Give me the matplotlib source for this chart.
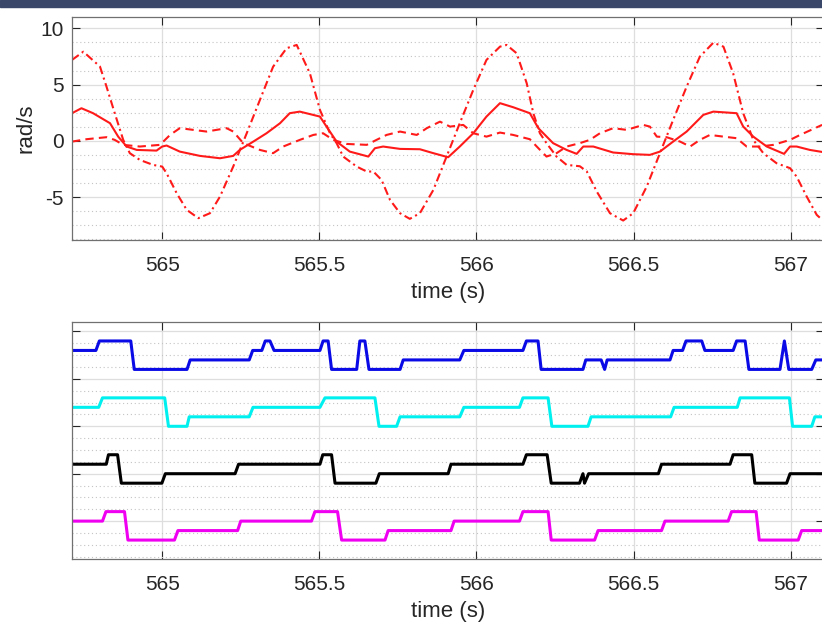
import matplotlib.pyplot as plt
from matplotlib.ticker import AutoMinorLocator, FixedLocator
from matplotlib.patches import Rectangle

plt.rcParams['font.family'] = ['Liberation Sans', 'DejaVu Sans']
plt.rcParams['axes.unicode_minus'] = False

# --- top panel: angular rates (rad/s) ---
t_solid = [564.713, 564.743, 564.780, 564.834, 564.860, 564.887, 564.919, 564.982, 565.000, 565.014,
           565.056, 565.120, 565.184, 565.226, 565.247, 565.290, 565.332, 565.375, 565.406, 565.438,
           565.502, 565.523, 565.555, 565.597, 565.656, 565.677, 565.703, 565.757, 565.820, 565.863,
           565.910, 565.947, 565.990, 566.032, 566.075, 566.117, 566.170, 566.197, 566.244, 566.287,
           566.319, 566.340, 566.372, 566.435, 566.499, 566.552, 566.584, 566.626, 566.669, 566.722,
           566.754, 566.828, 566.849, 566.881, 566.924, 566.979, 566.998, 567.019, 567.061, 567.100]
w_solid = [2.46, 2.9, 2.46, 1.57, 0.38, -0.5, -0.8, -0.86, -0.5, -0.41,
           -0.95, -1.33, -1.54, -1.33, -0.8, -0.06, 0.68, 1.57, 2.46, 2.6,
           2.16, 1.27, -0.06, -0.95, -1.39, -0.65, -0.5, -0.71, -0.74, -1.09,
           -1.45, -0.5, 0.68, 2.16, 3.35, 2.99, 2.46, 1.13, -0.2, -0.8,
           -1.15, -0.5, -0.5, -1.03, -1.18, -1.24, -0.95, -0.06, 0.83, 2.31,
           2.6, 2.46, 1.27, 0.38, -0.5, -1.15, -0.5, -0.5, -0.8, -0.98]

t_dash = [564.713, 564.759, 564.823, 564.849, 564.876, 564.929, 564.993, 565.025, 565.056, 565.099,
          565.141, 565.205, 565.226, 565.258, 565.311, 565.353, 565.385, 565.438, 565.481, 565.512,
          565.544, 565.587, 565.651, 565.682, 565.714, 565.757, 565.810, 565.842, 565.884, 565.916,
          565.958, 565.990, 566.032, 566.075, 566.117, 566.170, 566.192, 566.223, 566.255, 566.287,
          566.329, 566.361, 566.393, 566.435, 566.478, 566.531, 566.552, 566.574, 566.605, 566.648,
          566.680, 566.711, 566.743, 566.786, 566.828, 566.860, 566.902, 566.945, 566.998, 567.030,
          567.100]
w_dash = [-0.06, 0.15, 0.33, 0.09, -0.35, -0.5, -0.35, 0.53, 1.13, 0.98,
          0.83, 1.13, 0.83, -0.2, -0.8, -1.09, -0.5, 0.09, 0.53, 0.68,
          0.09, -0.27, -0.35, 0.09, 0.53, 0.83, 0.53, 1.13, 1.71, 1.27,
          1.42, 0.68, 0.38, 0.74, 0.53, 0.15, -0.5, -1.39, -1.09, -0.5,
          -0.2, 0.09, 0.68, 1.13, 0.98, 1.42, 1.27, 0.38, 0.33, -0.06,
          -0.5, 0.09, 0.53, 0.38, 0.24, -0.5, -0.5, -0.35, 0.09, 0.53,
          1.42]

t_dashdot = [564.713, 564.749, 564.802, 564.823, 564.849, 564.876, 564.897, 564.929, 564.971, 565.000,
             565.014, 565.046, 565.078, 565.115, 565.152, 565.184, 565.226, 565.269, 565.311, 565.353,
             565.396, 565.428, 565.470, 565.502, 565.534, 565.555, 565.576, 565.619, 565.651, 565.672,
             565.698, 565.725, 565.757, 565.788, 565.820, 565.863, 565.905, 565.947, 565.990, 566.032,
             566.075, 566.096, 566.128, 566.160, 566.181, 566.202, 566.223, 566.255, 566.287, 566.329,
             566.351, 566.383, 566.425, 566.467, 566.499, 566.542, 566.584, 566.626, 566.669, 566.711,
             566.754, 566.786, 566.817, 566.849, 566.881, 566.913, 566.955, 566.998, 567.019, 567.051,
             567.083, 567.100]
w_dashdot = [7.19, 7.92, 6.6, 4.8, 2.46, 0.09, -1.09, -1.69, -2.13, -2.28,
             -2.87, -4.64, -6.12, -6.86, -6.42, -4.94, -2.28, 0.68, 3.64, 6.59,
             8.23, 8.52, 6.0, 2.75, 0.68, -0.2, -1.39, -2.28, -2.72, -2.72,
             -3.46, -5.24, -6.42, -6.92, -6.42, -4.35, -1.39, 1.57, 4.53, 7.19,
             8.37, 8.52, 7.78, 5.12, 2.46, 0.68, -0.2, -1.39, -2.13, -2.25,
             -2.7, -4.5, -6.42, -7.07, -6.42, -4.05, -1.09, 1.86, 4.82, 7.48,
             8.72, 8.37, 6.0, 2.46, 0.09, -1.09, -1.98, -2.42, -3.17, -4.94,
             -6.57, -7.0]

# --- bottom panel: 4-level state signals (0..3) ---
t_blue = [564.713, 564.789, 564.800, 564.900, 564.911, 565.079, 565.089, 565.277, 565.288, 565.317,
          565.328, 565.343, 565.356, 565.502, 565.512, 565.528, 565.539, 565.619, 565.629, 565.645,
          565.658, 565.757, 565.767, 565.947, 565.960, 566.148, 566.159, 566.196, 566.206, 566.339,
          566.348, 566.397, 566.408, 566.416, 566.616, 566.626, 566.656, 566.667, 566.717, 566.727,
          566.817, 566.828, 566.855, 566.867, 566.966, 566.980, 566.994, 567.067, 567.080, 567.110]
s_blue = [2, 2, 3, 3, 0, 0, 1, 1, 2, 2,
          3, 3, 2, 2, 3, 3, 0, 0, 3, 3,
          0, 0, 1, 1, 2, 2, 3, 3, 0, 0,
          1, 1, 0, 1, 1, 2, 2, 3, 3, 2,
          2, 3, 3, 0, 0, 3, 0, 0, 1, 1]

t_cyan = [564.713, 564.798, 564.810, 565.008, 565.020, 565.079, 565.086, 565.277, 565.289, 565.502,
          565.518, 565.677, 565.690, 565.746, 565.757, 565.947, 565.960, 566.137, 566.148, 566.228,
          566.240, 566.355, 566.365, 566.618, 566.629, 566.830, 566.839, 566.996, 567.006, 567.067,
          567.077, 567.110]
s_cyan = [2, 2, 3, 3, 0, 0, 1, 1, 2, 2,
          3, 3, 0, 0, 1, 1, 2, 2, 3, 3,
          0, 0, 1, 1, 2, 2, 3, 3, 0, 0,
          1, 1]

t_black = [564.713, 564.822, 564.829, 564.858, 564.870, 564.999, 565.010, 565.232, 565.243, 565.502,
           565.511, 565.539, 565.550, 565.680, 565.691, 565.910, 565.919, 566.148, 566.159, 566.225,
           566.238, 566.328, 566.339, 566.344, 566.357, 566.579, 566.589, 566.807, 566.817, 566.876,
           566.886, 566.987, 566.998, 567.110]
s_black = [2, 2, 3, 3, 0, 0, 1, 1, 2, 2,
           3, 3, 0, 0, 1, 1, 2, 2, 3, 3,
           0, 0, 1, 0, 1, 1, 2, 2, 3, 3,
           0, 0, 1, 1]

t_magenta = [564.713, 564.810, 564.821, 564.880, 564.891, 565.039, 565.050, 565.240, 565.250, 565.475,
             565.486, 565.558, 565.571, 565.709, 565.719, 565.919, 565.929, 566.137, 566.148, 566.228,
             566.238, 566.376, 566.387, 566.589, 566.600, 566.801, 566.812, 566.890, 566.900, 567.024,
             567.035, 567.110]
s_magenta = [2, 2, 3, 3, 0, 0, 1, 1, 2, 2,
             3, 3, 0, 0, 1, 1, 2, 2, 3, 3,
             0, 0, 1, 1, 2, 2, 3, 3, 0, 0,
             1, 1]

offsets = [16, 10, 4, -2]

xticks = [565, 565.5, 566, 566.5, 567]
xticklabels = ['565', '565.5', '566', '566.5', '567']
xlim = (564.713, 567.106)

tick_col = '#262626'


def style_axes(ax):
    ax.set_xlim(*xlim)
    ax.set_xticks(xticks)
    ax.set_xticklabels(xticklabels)
    ax.yaxis.set_minor_locator(AutoMinorLocator(4))
    ax.xaxis.set_minor_locator(FixedLocator([]))
    ax.tick_params(which='major', direction='in', length=5.5, width=0.8, top=True, right=True,
                   labelsize=15, colors=tick_col, pad=11.5)
    ax.tick_params(which='minor', length=0, left=False, right=False)
    ax.grid(True, which='major', color='#dedede', lw=0.9, ls='-')
    ax.grid(True, which='minor', axis='y', color='#c4c4c4', lw=0.8, ls=(0, (1, 2.5)))
    ax.set_axisbelow(True)
    for sp in ax.spines.values():
        sp.set_color('#707070')
        sp.set_linewidth(0.9)
    ax.set_xlabel('time (s)', fontsize=16, color=tick_col, labelpad=5)


fig = plt.figure(figsize=(8.22, 6.37), dpi=100)
fig.patches.append(Rectangle((0, 0.989), 1, 0.011, transform=fig.transFigure,
                             color='#3b4769', zorder=0))

ax1 = fig.add_axes([0.0876, 0.6232, 0.9148, 0.3501])
ax1.plot(t_solid, w_solid, color='#ff1a1a', lw=1.5, ls='-')
ax1.plot(t_dash, w_dash, color='#ff1a1a', lw=1.5, ls=(0, (4, 2.5)))
ax1.plot(t_dashdot, w_dashdot, color='#ff1a1a', lw=1.5, ls=(0, (4, 1.8, 1, 1.8)))
ax1.set_ylim(-8.8, 11)
ax1.set_yticks([-5, 0, 5, 10])
style_axes(ax1)
ax1.tick_params(axis='y', pad=6)
ax1.set_ylabel('rad/s', fontsize=16, color=tick_col, labelpad=3)

ax2 = fig.add_axes([0.0876, 0.1224, 0.9148, 0.3721])
for t, s, off, col in zip([t_blue, t_cyan, t_black, t_magenta],
                          [s_blue, s_cyan, s_black, s_magenta],
                          offsets, ['#0a0ae6', '#00f0f0', '#000000', '#f000f0']):
    ax2.plot(t, [v + off for v in s], color=col, lw=2.2, solid_joinstyle='round')
ax2.set_ylim(-4, 21)
ax2.set_yticks([0, 5, 10, 15, 20])
ax2.set_yticklabels([])
style_axes(ax2)

fig.savefig('out.png', dpi=100)
